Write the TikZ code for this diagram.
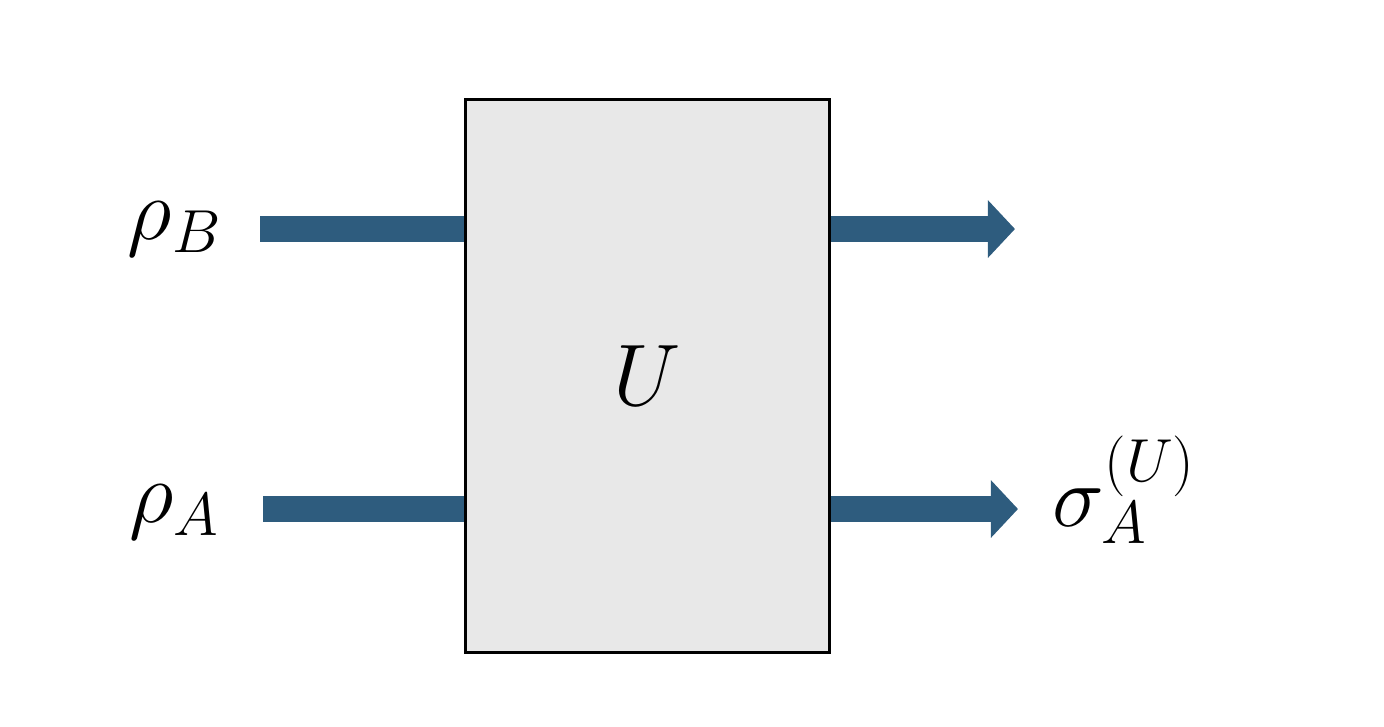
\documentclass[tikz,border=0pt]{standalone}
\usetikzlibrary{arrows.meta}
\definecolor{flow}{HTML}{2E5C7E}
\begin{document}
\begin{tikzpicture}[yscale=-1, x=0.01cm, y=0.01cm,
    wire/.style={draw=flow, line width=0.26cm},
    outwire/.style={wire, -{Triangle[length=0.27cm, width=0.56cm]}},
    lbl/.style={font=\fontsize{27}{32}\selectfont, inner sep=0pt}]
    \useasboundingbox (0,0) rectangle (1384,726);
    % the unitary
    \node [draw, thick, fill=black!9, minimum width=3.63cm, minimum height=5.52cm] (box) at (647.5,376) {\fontsize{36}{42}\selectfont$U$};
    % inputs
    \node [lbl] (rhoB) at (175,229) {$\rho_B$};
    \node [lbl] (rhoA) at (175,512) {$\rho_A$};
    \coordinate (inB) at (260,229);
    \coordinate (inA) at (263,509);
    \draw [wire] (inB) -- (inB -| box.west);
    \draw [wire] (inA) -- (inA -| box.west);
    % outputs
    \coordinate (outB) at (1015,229);
    \coordinate (outA) at (1018,509);
    \draw [outwire] (outB -| box.east) -- (outB);
    \draw [outwire] (outA -| box.east) -- (outA);
    \node [lbl, anchor=west] (sigmaA) at (1052,490) {$\sigma_A^{(U)}$};
\end{tikzpicture}
\end{document}
